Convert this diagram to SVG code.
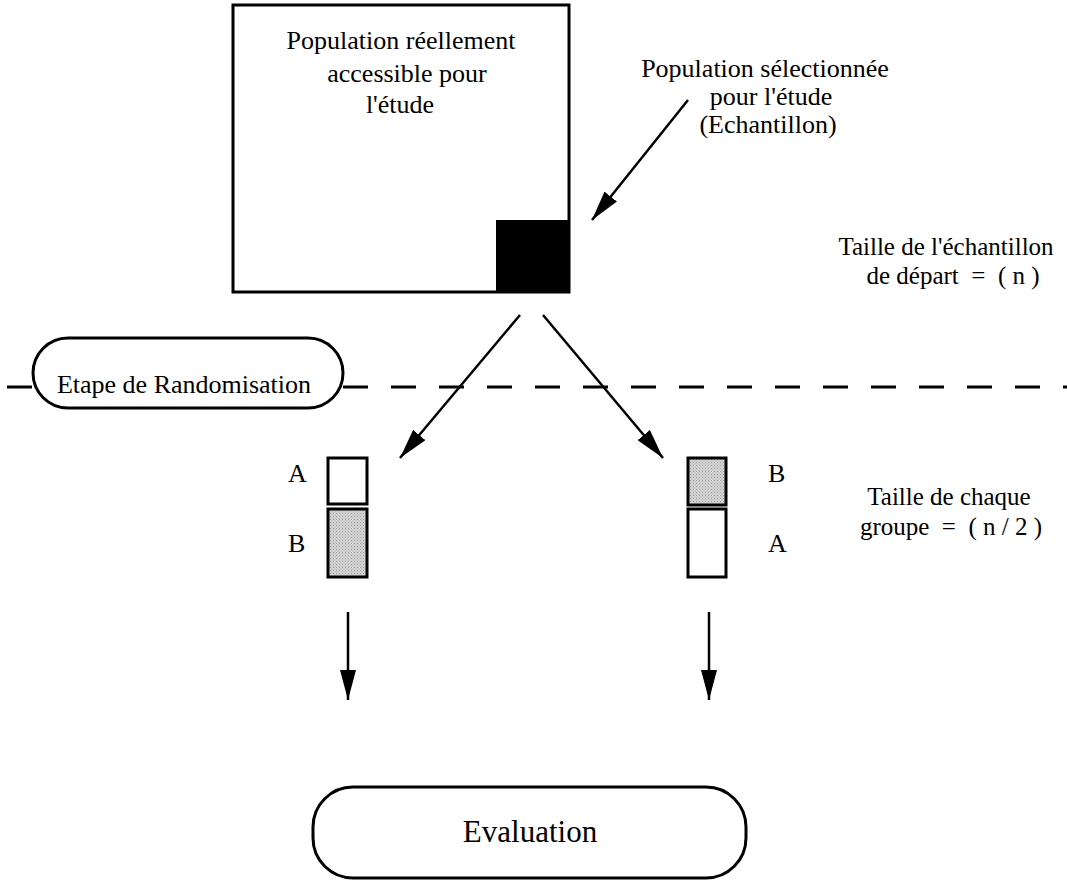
<svg xmlns="http://www.w3.org/2000/svg" width="1067" height="881" viewBox="0 0 1067 881">
<style>
text{font-family:"Liberation Serif","Times New Roman",serif;fill:#000;white-space:pre}
.t26{font-size:26px}
.t25{font-size:25px}
.mid{text-anchor:middle}
.box{fill:#fff;stroke:#000;stroke-width:3}
.gray{fill:url(#dots);stroke:#000;stroke-width:3}
.ln{stroke:#000;stroke-width:2.5;fill:none}
</style>
<defs>
<pattern id="dots" width="3" height="3" patternUnits="userSpaceOnUse">
<rect width="3" height="3" fill="#d6d6d6"/>
<rect width="1" height="1" fill="#9a9a9a"/>
<rect x="1.5" y="1.5" width="1" height="1" fill="#a8a8a8"/>
</pattern>
<marker id="ah" viewBox="0 0 30 16" markerWidth="30" markerHeight="16" refX="30" refY="8" orient="auto" markerUnits="userSpaceOnUse">
<path d="M0,0 L30,8 L0,16 z" fill="#000"/>
</marker>
</defs>
<rect width="1067" height="881" fill="#fff"/>

<g id="connectors">
<line x1="7" y1="387" x2="1067" y2="387" stroke="#000" stroke-width="3" stroke-dasharray="25 23"/>
<line class="ln" x1="688" y1="100" x2="592" y2="220" marker-end="url(#ah)"/>
<line class="ln" x1="520" y1="315" x2="400" y2="458" marker-end="url(#ah)"/>
<line class="ln" x1="543" y1="315" x2="663" y2="458" marker-end="url(#ah)"/>
<line class="ln" x1="348" y1="612" x2="348" y2="700" stroke-width="3" marker-end="url(#ah)"/>
<line class="ln" x1="709" y1="612" x2="709" y2="700" stroke-width="3" marker-end="url(#ah)"/>
</g>

<g id="population">
<rect class="box" x="233" y="5" width="336" height="287"/>
<text class="t26 mid" x="401" y="49">Population réellement</text>
<text class="t26 mid" x="407" y="82">accessible pour</text>
<text class="t26 mid" x="400" y="113">l'étude</text>
</g>

<g id="echantillon">
<rect x="496" y="220" width="73" height="72" fill="#000"/>
</g>

<g id="label-echantillon">
<text class="t26 mid" x="765" y="77">Population sélectionnée</text>
<text class="t26 mid" x="771" y="105">pour l'étude</text>
<text class="t26 mid" x="768" y="133">(Echantillon)</text>
</g>

<g id="taille-depart">
<text class="t25 mid" x="946" y="255">Taille de l'échantillon</text>
<text class="t25 mid" x="953" y="284">de départ  =  ( n )</text>
</g>

<g id="randomisation">
<rect class="box" x="33" y="338" width="310" height="70" rx="35" ry="35"/>
<text class="t26 mid" x="184" y="393">Etape de Randomisation</text>
</g>

<g id="groupe-gauche">
<rect class="box" x="328" y="458" width="39" height="46"/>
<rect class="gray" x="328" y="509" width="39" height="68"/>
<text class="t26" x="288" y="482">A</text>
<text class="t26" x="288" y="552">B</text>
</g>

<g id="groupe-droit">
<rect class="gray" x="688" y="458" width="38" height="47"/>
<rect class="box" x="688" y="509" width="38" height="68"/>
<text class="t26" x="768" y="482">B</text>
<text class="t26" x="768" y="552">A</text>
</g>

<g id="taille-groupe">
<text class="t25 mid" x="949" y="505">Taille de chaque</text>
<text class="t25 mid" x="951" y="535">groupe  =  ( n / 2 )</text>
</g>

<g id="evaluation">
<rect class="box" x="313" y="787" width="433" height="91" rx="40" ry="40"/>
<text class="mid" x="530" y="842" style="font-size:31px">Evaluation</text>
</g>
</svg>
